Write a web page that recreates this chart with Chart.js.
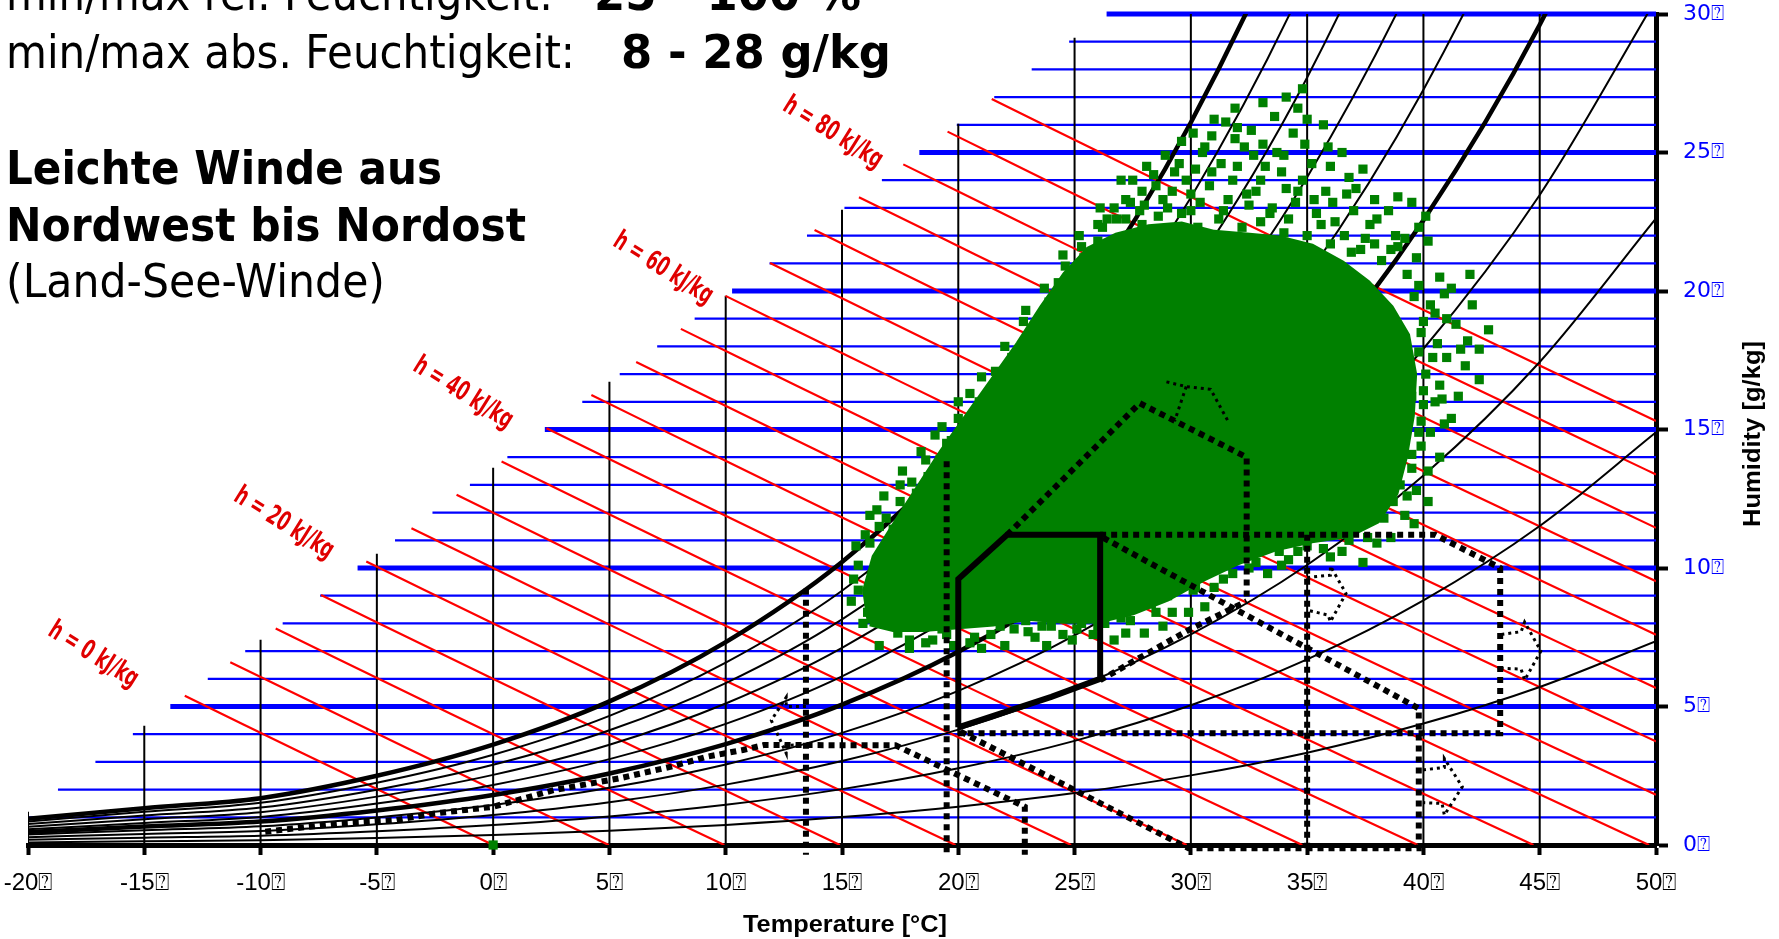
<!DOCTYPE html>
<html>
<head>
<meta charset="utf-8">
<script src="https://cdn.jsdelivr.net/npm/chart.js@4.4.1/dist/chart.umd.min.js"></script>
<style>
  html, body { margin: 0; padding: 0; background: #fff; }
  #wrap { width: 1779px; height: 939px; }
</style>
</head>
<body>
<div id="wrap"><canvas id="psychroChart" width="1779" height="939"></canvas></div>
<script>
// --- axes ---
const tempTicks = [-20, -15, -10, -5, 0, 5, 10, 15, 20, 25, 30, 35, 40, 45, 50];
const humTicks = [0, 5, 10, 15, 20, 25, 30];
const tickSuffix = '\u2370';
const humLines = [1, 2, 3, 4, 5, 6, 7, 8, 9, 10, 11, 12, 13, 14, 15, 16, 17, 18, 19, 20,
                  21, 22, 23, 24, 25, 26, 27, 28, 29, 30];

// upper-left limit of the grid (g/kg at a given temperature)
const edgeW0 = 13.62, edgeSlope = 0.621;

// saturation vapour pressure [hPa] and air pressure used by the chart
const tableTemps = [-20, -15, -10, -5, 0, 5, 10, 15, 20, 25, 30, 35, 40, 45, 50];
const satPressure = [1.6, 2.25, 2.86, 4.22, 6.11, 8.72, 12.28, 17.05, 23.39, 31.69, 42.46, 56.24, 73.84, 95.89, 123.4];
const airPressure = 1055;
const rhLevels = [10, 20, 30, 40, 50, 60, 70, 80, 90, 100];
const rhBold = [50, 100];

// enthalpy lines [kJ/kg] and their labels
const enthalpyLevels = [0, 5, 10, 15, 20, 25, 30, 35, 40, 45, 50, 55, 60, 65, 70, 75, 80, 85, 90];
const enthalpyLabels = [0, 20, 40, 60, 80];
const labelTemp = [-17.2, -9.0, -1.3, 7.3, 14.6];
const labelHum = [6.85, 11.6, 16.3, 20.8, 25.7];

// comfort zone (solid) and strategy zones (dotted)
const comfortT = [20, 20, 22.1, 26.1, 26.1, 24, 22, 20];
const comfortW = [4.25, 9.6, 11.2, 11.2, 6.0, 5.35, 4.8, 4.25];
const ventT = [26.1, 40.5, 43.3, 43.3, 20.0];
const ventW = [11.2, 11.2, 10.0, 4.03, 4.03];
const evapT = [20.1, 29.9, 39.8, 39.8, 26.1];
const evapW = [4.09, -0.12, -0.12, 4.93, 11.15];
const massT = [22.1, 27.8, 32.4, 32.4];
const massW = [11.2, 15.95, 14.0, 8.8];
const massLowT = [26.1, 29.9, 32.4];
const massLowW = [5.95, 7.76, 8.8];
const heatT = [-9.8, -6.6, -4.2, -2.5, 0.0, 2.6, 5.45, 7.66, 9.2, 10.74, 11.64, 17.3, 22.86, 22.86];
const heatW = [0.48, 0.78, 0.9, 1.14, 1.38, 1.98, 2.41, 2.83, 3.19, 3.43, 3.61, 3.6, 1.38, -0.35];
const zoneVerticalT = [13.45, 19.5, 35.0];
const zoneVerticalTop = [9.25, 13.85, 11.2];
const zoneVerticalBottom = [-0.35, -0.3, -0.12];

// small thin dotted markers
const arrowShapes = [
  [[13.45, 5.0], [12.6, 5.0], [12.6, 5.33], [11.96, 4.5], [12.6, 3.31], [12.6, 3.6], [13.45, 3.62]],
  [[35.0, 9.66], [36.0, 9.74], [36.0, 10.07], [36.67, 9.08], [36.0, 8.06], [35.9, 8.3], [35.0, 8.48]],
  [[43.35, 7.6], [44.2, 7.7], [44.35, 8.05], [45.05, 7.0], [44.35, 5.95], [44.2, 6.35], [43.35, 6.38]],
  [[39.98, 2.71], [40.9, 2.8], [40.9, 3.12], [41.67, 2.1], [40.9, 1.08], [40.8, 1.5], [39.98, 1.53]],
  [[28.95, 16.72], [29.8, 16.55], [30.85, 16.45], [31.6, 15.3]],
  [[29.8, 16.55], [29.3, 15.3]]
];

// hourly climate data: dense core outline + scattered hours
const coreTemp = [16.2, 16.0, 16.4, 17.3, 18.3, 19.3, 20.4, 21.5, 22.6, 23.6, 24.6, 25.6, 26.8, 28.2,
                  29.6, 31.0, 32.4, 33.8, 35.2, 36.5, 37.6, 38.6, 39.3, 39.6, 39.5, 39.2, 38.8, 38.0,
                  36.8, 35.2, 33.6, 32.0, 30.5, 29.0, 27.5, 26.0, 24.5, 23.0, 21.5, 20.0, 18.5, 17.2, 16.2];
const coreHum = [8.0, 9.2, 10.4, 11.6, 12.9, 14.2, 15.5, 16.8, 18.1, 19.4, 20.6, 21.5, 22.0, 22.3,
                 22.4, 22.1, 22.0, 21.9, 21.6, 21.0, 20.3, 19.4, 18.4, 17.0, 15.5, 14.0, 12.7, 11.7,
                 11.2, 11.0, 10.7, 10.2, 9.6, 8.9, 8.4, 8.1, 8.1, 8.2, 8.0, 7.9, 7.8, 7.8, 8.0];
const obsPoints = [
  [34.8,27.3],[34.1,27.0],[33.1,26.8],[31.9,26.6],[31.0,26.2],[35.0,26.2],[35.7,26.0],[34.4,25.7],
  [32.6,25.8],[31.5,26.1],[32.3,25.2],[33.1,25.3],[33.7,25.0],[36.5,25.0],[30.1,25.7],[30.6,25.2],
  [30.5,25.0],[28.9,24.9],[32.0,24.5],[33.9,24.3],[34.8,24.0],[35.8,23.6],[36.8,24.1],[37.1,23.7],
  [28.4,24.2],[29.8,24.0],[28.1,24.5],[27.4,23.2],[26.8,22.6],[29.2,23.6],[30.8,23.8],[31.6,23.3],
  [32.8,23.6],[33.5,23.0],[34.5,23.2],[35.4,22.8],[36.2,22.5],[37.0,22.9],[37.9,23.3],[38.5,22.9],
  [39.5,23.2],[40.1,22.7],[38.8,22.0],[40.2,21.8],[39.7,21.2],[27.8,22.9],[28.6,22.7],[30.0,22.9],
  [31.2,22.6],[32.2,22.3],[33.0,22.5],[34.0,22.1],[35.0,22.0],[36.0,21.7],[37.3,21.5],[38.2,21.1],
  [29.0,22.2],[30.3,22.3],[26.0,21.8],[25.4,21.2],[25.0,20.6],[27.0,21.9],[31.3,24.6],[29.5,24.6],
  [33.0,24.0],[36.0,24.5],[27.9,23.6],[31.9,25.5],[34.9,25.3],
  [27.2,22.6],[28.0,23.1],[28.8,23.3],[29.6,22.8],[30.4,23.2],[31.4,22.9],[32.5,23.1],[33.4,22.8],
  [34.2,22.6],[35.6,22.4],[36.6,22.0],[37.5,21.9],[26.4,22.6],[27.5,24.0],[30.2,24.4],[32.7,24.9],
  [34.1,23.7],[35.2,24.6],[36.1,23.2],[37.7,22.4],[38.6,21.5],[39.2,21.9],
  [28.5,23.8],[29.3,24.3],[30.0,23.5],[30.9,24.3],[31.8,24.0],[32.4,23.5],[33.2,24.5],[34.0,24.9],
  [34.6,23.6],[35.3,23.3],[35.9,25.2],[36.7,23.5],[37.4,24.4],[38.0,22.6],[38.9,23.4],[39.8,22.3],
  [29.6,25.4],[30.9,25.6],[32.0,25.9],[33.6,26.3],[34.6,26.6],[29.0,23.0],[27.9,22.4],[26.7,23.0],
  [37.9,21.7],[36.9,21.4],
  [40.7,20.5],[40.9,19.9],[42.1,19.5],[41.4,18.8],[42.4,17.9],[41.8,17.3],[42.4,16.8],[40.7,16.6],
  [40.0,15.9],[39.9,14.4],[39.7,12.8],[38.7,12.4],[38.6,11.1],[37.4,10.2],[36.0,10.4],[35.2,11.4],
  [39.6,19.8],[40.0,18.9],[39.8,17.8],[40.6,18.1],[41.0,17.6],[39.5,16.2],[39.9,15.3],[39.5,13.6],
  [39.0,13.0],[40.5,19.2],[39.3,20.6],[38.0,10.9],[36.8,11.0],[38.3,11.8],[39.2,11.9],[40.3,14.9],
  [40.1,17.0],[41.2,20.1],[38.9,21.6],[39.8,20.2],[40.3,19.5],[39.9,18.5],[40.4,17.6],[40.0,16.4],
  [40.5,16.0],[39.8,14.9],[39.5,14.1],[39.3,12.6],[40.2,13.5],[41.5,16.2],[41.9,18.2],[40.9,15.2],
  [41.0,19.0],[41.6,17.9],[40.8,16.1],[41.2,15.4],[40.7,14.0],[40.2,12.4],[39.6,11.6],[42.8,18.6],
  [42.0,20.6],
  [33.3,9.8],[31.4,9.6],[30.1,9.2],[29.9,8.4],[28.0,7.65],[27.2,7.65],[24.9,7.4],[23.3,7.5],
  [22.4,7.8],[20.7,7.5],[18.9,7.4],[17.4,7.65],[16.6,7.2],[16.1,8.4],[15.7,9.2],[15.7,10.1],
  [16.2,10.9],[34.2,10.3],[32.5,10.0],[30.8,9.9],[29.0,9.0],[28.5,8.4],[27.0,8.2],[26.0,7.9],
  [25.3,8.0],[24.0,7.9],[22.9,8.1],[21.8,7.9],[20.2,8.0],[19.5,7.6],[18.2,7.9],[17.0,8.1],
  [16.6,8.8],[16.3,9.6],[16.8,10.4],[32.0,10.5],[30.5,10.1],[29.5,9.6],[26.5,8.6],[21.0,7.1],
  [23.8,7.2],[25.8,7.6],[19.8,7.2],[17.9,7.1],[33.8,10.6],[35.0,10.8],
  [17.9,7.4],[18.6,7.3],[19.3,7.8],[20.5,7.3],[21.4,7.6],[22.0,7.2],[23.0,7.7],[23.6,7.9],
  [24.5,7.6],[25.1,7.8],[26.3,8.0],[27.4,8.1],[28.3,8.7],[29.2,8.4],[30.2,9.3],[31.0,9.3],
  [31.8,9.8],[32.8,10.2],[33.9,10.1],[34.6,10.6],[35.7,10.7],[36.5,10.6],[37.6,11.1],[28.8,7.9],
  [30.6,8.6],[26.7,7.4],
  [17.8,12.1],[18.7,13.3],[19.7,14.6],[20.7,15.5],[21.8,16.5],[22.6,17.2],[23.7,18.6],[24.5,19.8],
  [25.5,21.2],[26.2,22.3],[27.2,23.3],[17.2,11.4],[18.2,12.7],[19.2,13.9],[20.2,15.0],[21.2,16.1],
  [22.2,16.8],[23.1,17.9],[24.0,19.2],[25.0,20.0],[17.0,10.9],[16.9,11.8],[18.9,12.6],
  [15.9,8.0],[15.5,9.6],[16.0,11.2],[16.6,11.5],[17.5,12.4],[18.0,13.1],[18.6,13.9],[19.5,14.5],
  [20.0,15.4],[20.9,16.0],[21.6,17.1],[22.3,17.6],[23.2,18.6],[23.9,19.6],[24.6,20.9],[25.3,21.6],
  [26.0,22.4],[15.4,8.8],[16.5,12.1],[17.5,13.0],[19.0,14.8],[20.5,16.3],[22.8,18.9],[24.3,20.3],
  [21.0,16.9],[22.0,18.0],[22.9,19.3],[23.7,20.1],[24.5,21.3],[25.2,22.0],[26.1,23.0],[27.0,24.0],
  [20.0,16.0],[19.3,15.1],[18.4,14.2],[17.6,13.5],[16.8,12.6],[16.2,11.9],[15.6,10.8],
  [0.0,0.0]
];

// --- texts ---
const infoLines = [
  ['min/max rel. Feuchtigkeit:', '25 - 100 %'],
  ['min/max abs. Feuchtigkeit:', '8 - 28 g/kg']
];
const windLines = ['Leichte Winde aus', 'Nordwest bis Nordost'];
const windNote = '(Land-See-Winde)';
const xTitle = 'Temperature [\u00b0C]';
const yTitle = 'Humidity [g/kg]';

// ---------------------------------------------------------------
function edgeW(t) { return edgeW0 + edgeSlope * t; }
function enthalpyW(h, t) { return (h - 1.006 * t) / (2.501 + 0.00186 * t); }
function enthalpyStart(h) {
  let lo = -40, hi = 50;
  for (let k = 0; k < 40; k++) {
    const mid = (lo + hi) / 2;
    if (enthalpyW(h, mid) > edgeW(mid)) lo = mid; else hi = mid;
  }
  return lo;
}
function pts(ts, ws) { return ts.map((t, i) => ({ x: t, y: ws[i] })); }

function lineSet(data, color, width, order, extra) {
  return Object.assign({
    data: data, showLine: true, borderColor: color, borderWidth: width,
    pointRadius: 0, pointHoverRadius: 0, fill: false, order: order, tension: 0
  }, extra || {});
}

const datasets = [];

// humidity grid (blue)
humLines.forEach(w => {
  const t0 = Math.max(-20, (w - edgeW0) / edgeSlope);
  const thick = w % 5 === 0;
  datasets.push(lineSet([{ x: t0, y: w }, { x: 50, y: w }], '#0000ff', thick ? 5 : 2.2, thick ? 99 : 100, { clip: 4 }));
});

// temperature grid (black verticals)
tempTicks.slice(0, -1).forEach(t => {
  datasets.push(lineSet([{ x: t, y: 0 }, { x: t, y: Math.min(30, edgeW(t)) }], '#000', 2, 95));
});

// enthalpy lines (red)
enthalpyLevels.forEach(h => {
  const t0 = enthalpyStart(h);
  const tEnd = Math.min(50, h / 1.006);
  const data = [];
  for (let t = t0; t < tEnd; t += 2.5) data.push({ x: t, y: enthalpyW(h, t) });
  data.push({ x: tEnd, y: enthalpyW(h, tEnd) });
  datasets.push(lineSet(data, '#ff0000', 2.2, 90));
});

// relative humidity curves
rhLevels.forEach(phi => {
  const data = tableTemps.map((t, i) => {
    const pv = phi / 100 * satPressure[i];
    return { x: t, y: 622 * pv / (airPressure - pv) };
  });
  const bold = rhBold.includes(phi);
  datasets.push(lineSet(data, '#000', bold ? 4.5 : 2, bold ? 84 : 85, { cubicInterpolationMode: 'monotone' }));
});

// climate data
datasets.push(lineSet(pts(coreTemp, coreHum), '#008000', 6, 60, { fill: 'shape', backgroundColor: '#008000' }));
datasets.push({
  data: obsPoints.map(p => ({ x: p[0], y: p[1] })),
  showLine: false, pointStyle: 'rect', pointRadius: 6.5, pointHoverRadius: 6.5,
  pointBorderWidth: 0, pointBackgroundColor: '#008000', order: 59, clip: 10
});

// strategy zones (dotted)
const dotted = { borderDash: [6, 5], clip: 14 };
[[ventT, ventW], [evapT, evapW], [massT, massW], [massLowT, massLowW], [heatT, heatW]].forEach(z => {
  datasets.push(lineSet(pts(z[0], z[1]), '#000', 6, 20, dotted));
});
zoneVerticalT.forEach((t, i) => {
  datasets.push(lineSet([{ x: t, y: zoneVerticalTop[i] }, { x: t, y: zoneVerticalBottom[i] }], '#000', 6, 20, dotted));
});
arrowShapes.forEach(s => {
  datasets.push(lineSet(s.map(p => ({ x: p[0], y: p[1] })), '#000', 3, 21, { borderDash: [3, 4] }));
});

// comfort zone (solid)
datasets.push(lineSet(pts(comfortT, comfortW), '#000', 6, 10, { borderJoinStyle: 'miter' }));

// ---------------------------------------------------------------
function fitText(ctx, text, x, y, width, font, color) {
  ctx.save();
  ctx.font = font;
  ctx.fillStyle = color;
  ctx.textBaseline = 'alphabetic';
  ctx.textAlign = 'left';
  const w = ctx.measureText(text).width;
  ctx.translate(x, y);
  ctx.scale(width / w, 1);
  ctx.fillText(text, 0, 0);
  ctx.restore();
}

const textPlugin = {
  id: 'chartTexts',
  afterDraw(chart) {
    const ctx = chart.ctx;
    const xs = chart.scales.x, ys = chart.scales.y;
    const normal = '47px "DejaVu Sans"';
    const bold = 'bold 47px "DejaVu Sans"';

    fitText(ctx, infoLines[0][0], 6, 10, 547, normal, '#000');
    fitText(ctx, infoLines[0][1], 594, 10, 267, bold, '#000');
    fitText(ctx, infoLines[1][0], 6, 68, 569, normal, '#000');
    fitText(ctx, infoLines[1][1], 621, 68, 270, bold, '#000');
    fitText(ctx, windLines[0], 6, 184, 436, bold, '#000');
    fitText(ctx, windLines[1], 6, 241, 520, bold, '#000');
    fitText(ctx, windNote, 6, 297, 379, normal, '#000');

    // enthalpy labels
    const lblFont = 'bold 27px "DejaVu Sans"';
    ctx.save();
    ctx.font = lblFont;
    const squeeze = 112 / ctx.measureText('h = 20 kJ/kg').width;
    ctx.restore();
    enthalpyLabels.forEach((h, i) => {
      const px = xs.getPixelForValue(labelTemp[i]);
      const py = ys.getPixelForValue(labelHum[i]);
      ctx.save();
      ctx.translate(px, py);
      ctx.rotate(32 * Math.PI / 180);
      ctx.scale(squeeze, 1);
      ctx.font = lblFont;
      ctx.fillStyle = '#e00000';
      ctx.textAlign = 'center';
      ctx.textBaseline = 'middle';
      ctx.fillText('h = ' + h + ' kJ/kg', 0, 0);
      ctx.restore();
    });

    // axis titles
    const titleFont = 'bold 23px "Liberation Sans", Arial, sans-serif';
    ctx.save();
    ctx.font = titleFont;
    const tw = ctx.measureText(xTitle).width;
    ctx.translate(845 - 102, 932);
    ctx.scale(204 / tw, 1);
    ctx.fillStyle = '#000';
    ctx.fillText(xTitle, 0, 0);
    ctx.restore();

    ctx.save();
    ctx.font = titleFont;
    const yw = ctx.measureText(yTitle).width;
    ctx.translate(1760, 434);
    ctx.rotate(-Math.PI / 2);
    ctx.scale(186 / yw, 1);
    ctx.fillStyle = '#000';
    ctx.textAlign = 'center';
    ctx.fillText(yTitle, 0, 0);
    ctx.restore();
  }
};

new Chart(document.getElementById('psychroChart'), {
  type: 'scatter',
  data: { datasets: datasets },
  options: {
    responsive: false,
    animation: false,
    events: [],
    layout: { padding: { left: 28, top: 14, right: 0, bottom: 0 } },
    plugins: { legend: { display: false }, tooltip: { enabled: false } },
    scales: {
      x: {
        type: 'linear', position: 'bottom', min: -20, max: 50,
        afterBuildTicks: s => { s.ticks = tempTicks.map(v => ({ value: v })); },
        afterFit: s => { s.height = 94; s.paddingLeft = 0; s.paddingRight = 0; },
        ticks: {
          autoSkip: false, maxRotation: 0, padding: 14, color: '#000',
          font: { family: '"Liberation Sans", Arial, sans-serif', size: 24 },
          callback: v => v + tickSuffix
        },
        grid: { drawOnChartArea: false, drawTicks: true, tickLength: 10, tickWidth: 4, tickColor: '#000' },
        border: { display: true, color: '#000', width: 5 }
      },
      y: {
        type: 'linear', position: 'right', min: 0, max: 30,
        afterBuildTicks: s => { s.ticks = humTicks.map(v => ({ value: v })); },
        afterFit: s => { s.width = 123; s.paddingTop = 0; s.paddingBottom = 0; },
        ticks: {
          padding: 15, color: '#0000ff',
          font: { family: '"DejaVu Sans", Verdana, sans-serif', size: 22 },
          callback: v => v + tickSuffix
        },
        grid: { drawOnChartArea: false, drawTicks: true, tickLength: 12, tickWidth: 4, tickColor: '#000' },
        border: { display: true, color: '#000', width: 5 }
      }
    }
  },
  plugins: [textPlugin]
});
</script>
</body>
</html>
